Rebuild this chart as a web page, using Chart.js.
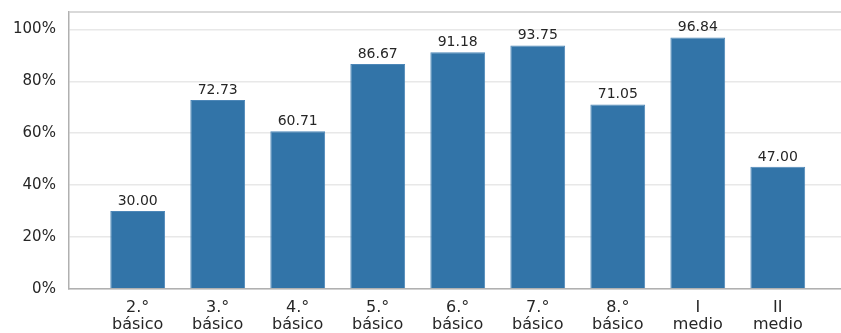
<!DOCTYPE html>
<html>
<head>
<meta charset="utf-8">
<script src="https://cdn.jsdelivr.net/npm/chart.js@4"></script>
<style>
  html, body { margin: 0; padding: 0; background: #fff; }
  #wrap { width: 841px; height: 333px; }
</style>
</head>
<body>
<div id="wrap"><canvas id="myChart" width="841" height="333"></canvas></div>
<script>
// grade levels, one label per bar (two lines each)
var gradeLines = [
    ['2.°', 'básico'], ['3.°', 'básico'], ['4.°', 'básico'],
    ['5.°', 'básico'], ['6.°', 'básico'], ['7.°', 'básico'],
    ['8.°', 'básico'], ['I', 'medio'], ['II', 'medio']
]
// percentage per grade
var percentValues = [30.00, 72.73, 60.71, 86.67, 91.18, 93.75, 71.05, 96.84, 47.00]
// y axis ticks
var yTicks = [0, 20, 40, 60, 80, 100]

var textColor = '#262626'
var fontFamily = 'DejaVu Sans'

// top frame line of the plot area
const frameTop = {
    id: 'frameTop',
    afterDraw(chart) {
        const a = chart.chartArea
        const ctx = chart.ctx
        ctx.save()
        ctx.strokeStyle = '#cccccc'
        ctx.lineWidth = 1.5
        ctx.beginPath()
        ctx.moveTo(a.left, a.top)
        ctx.lineTo(a.right, a.top)
        ctx.stroke()
        ctx.restore()
    }
}

// value labels above each bar
const barValues = {
    id: 'barValues',
    afterDatasetsDraw(chart) {
        const ctx = chart.ctx
        const meta = chart.getDatasetMeta(0)
        ctx.save()
        ctx.fillStyle = textColor
        ctx.font = '14px "' + fontFamily + '"'
        ctx.textAlign = 'center'
        ctx.textBaseline = 'bottom'
        meta.data.forEach(function (bar, i) {
            ctx.fillText(percentValues[i].toFixed(2), bar.x, bar.y - 3)
        })
        ctx.restore()
    }
}

var ctx = document.getElementById('myChart').getContext('2d')
var chart = new Chart(ctx, {
    type: 'bar',
    data: {
        datasets: [{
            data: percentValues.map(function (v, i) { return { x: i, y: v } }),
            backgroundColor: '#3274a8',
            borderColor: '#4d87b8',
            borderWidth: 1,
            categoryPercentage: 1,
            barPercentage: 0.685
        }]
    },
    options: {
        responsive: false,
        animation: false,
        layout: { padding: { left: 0, top: 12, right: 0, bottom: -3 } },
        plugins: {
            legend: { display: false },
            tooltip: { enabled: false }
        },
        scales: {
            x: {
                type: 'linear',
                offset: false,
                min: -0.86,
                max: 8.79,
                grid: { display: false },
                border: { color: '#b0b0b0', width: 1.5 },
                ticks: {
                    stepSize: 1,
                    includeBounds: false,
                    autoSkip: false,
                    maxRotation: 0,
                    padding: 2,
                    color: textColor,
                    font: { family: fontFamily, size: 16, lineHeight: 1.1 },
                    callback: function (v) {
                        if (Number.isInteger(v) && v >= 0 && v < gradeLines.length) return gradeLines[v]
                        return null
                    }
                }
            },
            y: {
                min: 0,
                max: 106.7,
                afterBuildTicks: function (axis) {
                    axis.ticks = yTicks.map(function (v) { return { value: v } })
                },
                afterFit: function (axis) {
                    axis.paddingTop = 0
                },
                grid: { color: '#e8e8e8', lineWidth: 1.5, drawTicks: false },
                border: { color: '#b0b0b0', width: 1.5 },
                ticks: {
                    padding: 13,
                    color: textColor,
                    font: { family: fontFamily, size: 15 },
                    callback: function (v) { return v + '%' }
                }
            }
        }
    },
    plugins: [frameTop, barValues]
})
</script>
</body>
</html>
